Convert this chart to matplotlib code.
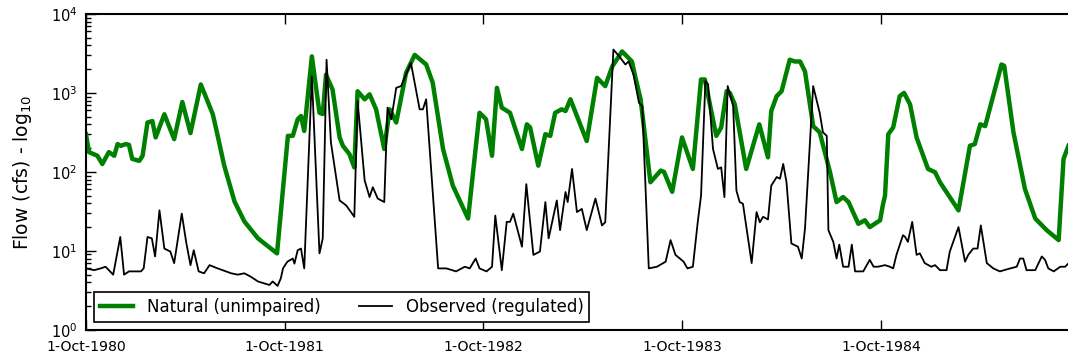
import numpy as np
import pandas as pd
import matplotlib
matplotlib.use('Agg')
import matplotlib.pyplot as plt
import matplotlib.dates as mdates
from matplotlib.ticker import FuncFormatter, LogLocator

# record starts 1-Oct-1980, times given as days since then
start = pd.Timestamp('1980-10-01')

nat_day = [0, 5.5, 21, 30, 42, 52, 58, 64, 73, 79, 85, 98, 104, 113, 122, 128, 144, 162, 177,
           192, 211, 233, 242, 254, 273, 291, 316, 351,
           371, 380, 389, 395, 401, 415, 429, 435, 441, 453, 466, 472, 484, 493, 499, 512, 521,
           533, 548, 558, 570, 588, 604, 625, 637, 656, 674, 702, 723,
           735, 746, 755, 764, 779, 801, 810, 816, 831, 844, 853, 862, 874, 881, 890, 920, 939,
           954, 967, 985, 994, 1003, 1009, 1019, 1037, 1056, 1062, 1077, 1095,
           1115, 1130, 1137, 1158, 1167, 1177, 1183, 1192, 1213, 1237, 1253, 1259, 1269, 1278,
           1293, 1302, 1312, 1321, 1336, 1348, 1367, 1379, 1391, 1401, 1419, 1431, 1440, 1459,
           1464, 1468, 1474, 1483, 1495, 1503, 1514, 1526, 1547, 1560, 1569, 1603, 1624, 1633,
           1643, 1652, 1682, 1687, 1704, 1725, 1744, 1765, 1787, 1796, 1805]
nat_cfs = [300, 178, 160, 126, 178, 160, 225, 214, 225, 220, 146, 138, 160, 422, 440, 273, 537, 260, 767,
           310, 1280, 537, 286, 120, 42, 23.6, 14.4, 9.3,
           286, 286, 464, 510, 330, 2900, 560, 540, 1700, 1100, 273, 214, 168, 114, 1050, 830, 960,
           620, 195, 620, 422, 1790, 3030, 2290, 1350, 195, 67, 25.7, 560,
           464, 160, 1160, 650, 560, 195, 400, 365, 120, 300, 286, 560, 620, 590, 830, 246, 1550,
           1220, 2170, 3350, 2900, 2500, 1620, 830, 74, 104, 100, 56, 273,
           109, 1480, 1480, 286, 365, 1050, 1000, 716, 109, 400, 153, 590, 910, 1050,
           2630, 2500, 2500, 1870, 380, 317, 99, 41.5, 48, 41.5, 22, 24.4, 20, 24.4,
           38, 50, 300, 365, 910, 1000, 716, 273, 109, 99, 74, 32.6, 214, 225,
           400, 380, 2290, 2200, 317, 61, 25.7, 18.3, 13.7, 146, 214]

obs_day = [0, 15, 27, 36, 50, 63, 70, 79, 101, 106, 113, 121, 127, 135, 144, 155, 162, 176,
           184, 192, 198, 207, 217, 227, 242, 267, 279, 291, 303, 316, 337, 343, 352, 358, 362,
           370, 380, 383, 389, 395, 401, 415, 429, 435, 442, 450, 466, 478, 493, 499, 512, 521,
           527, 536, 548, 554, 561, 570, 579, 597, 613, 619, 625, 647, 662, 680, 696, 705, 716,
           723, 736,
           746, 752, 764, 773, 779, 785, 801, 809, 822, 834, 844, 850, 865, 871, 881, 885, 893,
           902, 911, 920, 936, 948, 954, 969, 982, 991, 997, 1006, 1016, 1022, 1034, 1049, 1065,
           1074, 1083, 1098,
           1105, 1115, 1124, 1130, 1138, 1143, 1152, 1161, 1167, 1173, 1179, 1189, 1195, 1201,
           1207, 1223, 1232, 1238, 1244, 1253, 1259, 1269, 1275, 1281, 1287, 1296, 1308, 1315,
           1321, 1336, 1348, 1354, 1361, 1364, 1373, 1379, 1384, 1391, 1401, 1407, 1413, 1428,
           1440, 1447, 1455,
           1468, 1477, 1483, 1489, 1501, 1505, 1510, 1518, 1526, 1532, 1541, 1553, 1560, 1569,
           1581, 1587, 1603, 1615, 1621, 1630, 1638, 1644, 1655, 1667, 1679, 1698, 1710, 1716,
           1722, 1728, 1744, 1756, 1762, 1768, 1778, 1790, 1799, 1808]
obs_cfs = [6.0, 5.7, 6.0, 6.3, 5.0, 15, 5.0, 5.5, 5.5, 6.0, 15, 14.4, 8.5, 32.6, 10.7, 9.8, 7.0, 29.6,
           13, 6.6, 10.2, 5.5, 5.2, 6.6, 6.0, 5.2, 5.0, 5.2, 4.7, 4.1, 3.7, 4.1, 3.6, 4.5, 6.0,
           7.3, 8.0, 6.9, 10.2, 10.7, 6.0, 1620, 9.3, 14.4, 2630, 236, 43.5, 37.7, 27, 790, 78, 48,
           64, 46, 41.5, 650, 464, 1160, 1220, 2400, 620, 620, 830, 6.0, 6.0, 5.5, 6.3, 6.0, 8.0,
           6.0, 5.5,
           6.3, 28, 5.7, 23.3, 23.3, 29.6, 11.3, 70, 8.9, 9.8, 41.5, 14.4, 43.5, 18.3, 55.6, 41.5, 109,
           31, 34, 18.3, 46, 21, 23, 3540, 2770, 2290, 2500, 1700, 750, 680, 6.0, 6.3, 7.3,
           13.7, 8.9, 7.3,
           6.0, 6.3, 23.3, 50, 1410, 1290, 195, 109, 114, 48, 1220, 680, 58, 41.5,
           39.5, 7.0, 31, 23, 27, 25, 67, 86, 82, 126, 74, 12.4, 11.3, 8.0,
           19.2, 1220, 560, 317, 286, 18.3, 13, 8.0, 12, 6.3, 6.3, 12, 5.5, 5.5,
           7.7, 6.3, 6.3,
           6.6, 6.3, 6.0, 8.9, 15.8, 15, 13, 23.3, 8.9, 9.3, 7.0, 6.3, 6.6, 5.7,
           5.7, 9.8, 20, 7.3, 8.9, 10.7, 10.7, 21, 7.0, 6.0, 5.5, 6.0, 6.3, 8.0,
           8.0, 5.7, 5.7, 8.5, 7.7, 6.0, 5.5, 6.3, 6.3, 7.3]

nat_t = start + pd.to_timedelta(nat_day, unit='D')
obs_t = start + pd.to_timedelta(obs_day, unit='D')

fig = plt.figure(figsize=(10.68, 3.57), dpi=100)
# the right edge of the axes runs just past the picture, as in the original crop
ax = fig.add_axes([0.0805, 0.076, 0.9245, 0.885])

ax.plot(nat_t, nat_cfs, color=(0, 0.5, 0), lw=3.2, label='Natural (unimpaired)')
ax.plot(obs_t, obs_cfs, color='k', lw=1.3, label='Observed (regulated)')

ax.set_yscale('log')
ax.set_ylim(1, 1e4)
ax.set_xlim(start, start + pd.Timedelta(days=1814))
ax.yaxis.set_major_locator(LogLocator(base=10))
ax.yaxis.set_minor_locator(LogLocator(base=10, subs=np.arange(2, 10)))

ax.xaxis.set_major_locator(mdates.YearLocator(base=1, month=10, day=1))
ax.xaxis.set_major_formatter(FuncFormatter(
    lambda v, pos: '{}-{}'.format(mdates.num2date(v).day, mdates.num2date(v).strftime('%b-%Y'))))

ax.tick_params(which='both', direction='in', top=True, right=False)
ax.tick_params(axis='x', pad=7, labelsize=10.2)
ax.tick_params(axis='y', pad=6, labelsize=10.5)
ax.tick_params(which='major', length=7, width=1)
ax.tick_params(which='minor', length=3.5, width=1)
for s in ax.spines.values():
    s.set_linewidth(1.5)

ax.set_ylabel('Flow (cfs) - log$_{10}$', fontsize=13.5)
ax.yaxis.set_label_coords(-0.053, 0.5)

leg = ax.legend(loc='lower left', ncol=2, fontsize=12, fancybox=False,
                framealpha=1, edgecolor='k', borderaxespad=0.5, columnspacing=2.3,
                borderpad=0.35)
leg.get_frame().set_linewidth(1.2)

fig.savefig('out.png', dpi=100)
